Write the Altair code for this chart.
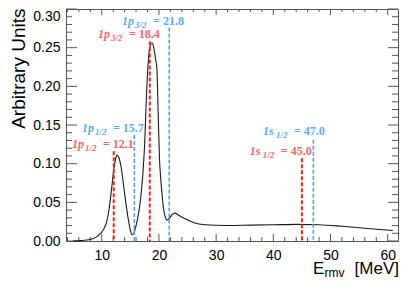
import altair as alt
import pandas as pd

# ---- measured spectrum ----
energy = [5.0, 6.3, 8.0, 9.0, 9.8, 10.4, 10.9, 11.3, 11.7, 12.1, 12.4, 12.7, 13.0, 13.4,
          13.8, 14.2, 14.6, 15.0, 15.3, 15.6, 16.0, 16.4, 16.8, 17.2, 17.5, 17.8, 18.1,
          18.4, 18.76, 19.1, 19.4, 19.65, 19.8, 19.95, 20.1, 20.3, 20.5, 20.8, 21.1, 21.4,
          21.8, 22.3, 22.8, 23.5, 24.5, 26.0, 28.0, 32.0, 36.0, 40.0, 44.0, 48.0, 52.0,
          56.0, 60.9]
strength = [0.0, 0.0005, 0.002, 0.005, 0.010, 0.016, 0.026, 0.042, 0.066, 0.092, 0.106,
            0.111, 0.108, 0.095, 0.073, 0.050, 0.030, 0.014, 0.008, 0.010, 0.020, 0.034,
            0.055, 0.088, 0.125, 0.185, 0.228, 0.250, 0.256, 0.250, 0.236, 0.222, 0.185,
            0.142, 0.106, 0.082, 0.064, 0.042, 0.031, 0.027, 0.029, 0.034, 0.036, 0.033,
            0.029, 0.024, 0.021, 0.020, 0.0205, 0.021, 0.0215, 0.021, 0.019, 0.0165, 0.0135]

# ---- theory levels ----
orbit = ["1p", "1p", "1s"]
j_sub = ["1/2", "3/2", "1/2"]
red_energy = [12.1, 18.4, 45.0]
red_top = [0.116, 0.258, 0.107]
red_label_x = [4.8, 9.35, 35.9]
red_label_y = [0.1197, 0.263, 0.1107]
blue_energy = [15.7, 21.8, 47.0]
blue_top = [0.137, 0.276, 0.131]
blue_label_x = [6.55, 13.55, 38.2]
blue_label_y = [0.1407, 0.2794, 0.1365]

# ---- axis ticks ----
x_major = [10, 20, 30, 40, 50, 60]
x_minor = [4, 6, 8, 12, 14, 16, 18, 22, 24, 26, 28, 32, 34, 36, 38, 42, 44, 46, 48,
           52, 54, 56, 58]
y_major = [0.0, 0.05, 0.10, 0.15, 0.20, 0.25, 0.30]
y_minor = [0.01, 0.02, 0.03, 0.04, 0.06, 0.07, 0.08, 0.09, 0.11, 0.12, 0.13, 0.14,
           0.16, 0.17, 0.18, 0.19, 0.21, 0.22, 0.23, 0.24, 0.26, 0.27, 0.28, 0.29]

W, H = 332, 232
AX = "#555555"
SANS = "Liberation Sans"
SERIF = "Liberation Serif"

xscale = alt.Scale(domain=[3.75, 61.8], nice=False, zero=False)
yscale = alt.Scale(domain=[0, 0.30], nice=False, zero=False)
xaxis = alt.Axis(values=x_major, ticks=False, domain=False, grid=False, labelFont=SANS,
                 labelFontSize=14, labelColor="black", labelPadding=7, title=None)
yaxis = alt.Axis(values=y_major, format=".2f", ticks=False, domain=False, grid=False,
                 labelFont=SANS, labelFontSize=14, labelColor="black", labelPadding=6,
                 labelBaseline={"condition": {"test": "datum.value >= 0.299", "value": "top"},
                                "value": "middle"},
                 title="Arbitrary Units", titleFont=SANS, titleFontSize=19,
                 titleFontWeight="normal", titleColor="black", titleX=-42, titleY=-1,
                 titleAlign="right", titleBaseline="alphabetic", titleAngle=270)


def X(f):
    return alt.X(f, type="quantitative", scale=xscale, axis=xaxis)


def Y(f):
    return alt.Y(f, type="quantitative", scale=yscale, axis=yaxis)


spec = pd.DataFrame({"E": energy, "S": strength})
curve = alt.Chart(spec).mark_line(color="#1a1a1a", strokeWidth=1.1, interpolate="monotone").encode(
    x=X("E"), y=Y("S"))


def level_df(E, top, lx, ly):
    return pd.DataFrame({"E": E, "top": top, "zero": [0.0] * len(E), "lx": lx, "ly": ly,
                         "pre": orbit, "sub": j_sub, "val": [f"= {e:.1f}" for e in E]})


def level_layers(df, line_color, text_color, width):
    base = alt.Chart(df)
    rules = base.mark_rule(color=line_color, strokeWidth=width, strokeDash=[4, 2]).encode(
        x=X("E"), y=Y("top"), y2="zero")
    t1 = base.mark_text(align="left", baseline="alphabetic", font=SERIF, fontSize=12,
                        fontWeight="bold", fontStyle="italic", color=text_color).encode(
        x=X("lx"), y=Y("ly"), text="pre:N")
    t2 = base.mark_text(align="left", baseline="alphabetic", font=SERIF, fontSize=9,
                        fontWeight="bold", fontStyle="italic", color=text_color, dx=13, dy=3).encode(
        x=X("lx"), y=Y("ly"), text="sub:N")
    t3 = base.mark_text(align="left", baseline="alphabetic", font=SERIF, fontSize=12,
                        fontWeight="bold", color=text_color, dx=31).encode(
        x=X("lx"), y=Y("ly"), text="val:N")
    return [rules, t1, t2, t3]


red = level_layers(level_df(red_energy, red_top, red_label_x, red_label_y),
                   "#ff1a1a", "#ff6464", 2)
blue = level_layers(level_df(blue_energy, blue_top, blue_label_x, blue_label_y),
                    "#4da6e8", "#5aaeec", 1.6)


def xtick(vals, y1, y2):
    return alt.Chart(pd.DataFrame({"v": vals})).mark_rule(color=AX, strokeWidth=1).encode(
        x=X("v"), y=alt.value(y1), y2=alt.value(y2))


def ytick(vals, x1, x2):
    return alt.Chart(pd.DataFrame({"v": vals})).mark_rule(color=AX, strokeWidth=1).encode(
        y=Y("v"), x=alt.value(x1), x2=alt.value(x2))


ticks = [
    xtick(x_major, H, H - 7), xtick(x_minor, H, H - 4),
    xtick(x_major, 0, 6), xtick(x_minor, 0, 3),
    ytick(y_major, 0, 11), ytick(y_minor, 0, 6),
    ytick(y_major, W, W - 10), ytick(y_minor, W, W - 6),
]

one = pd.DataFrame({"k": [0]})
xt_E = alt.Chart(one).mark_text(align="left", baseline="alphabetic", font=SANS, fontSize=17,
                                color="black").encode(
    x=alt.value(247), y=alt.value(H + 33), text=alt.value("E"))
xt_sub = alt.Chart(one).mark_text(align="left", baseline="alphabetic", font=SANS, fontSize=12,
                                  color="black").encode(
    x=alt.value(258.5), y=alt.value(H + 36), text=alt.value("rmv"))
xt_unit = alt.Chart(one).mark_text(align="right", baseline="alphabetic", font=SANS, fontSize=17,
                                   color="black").encode(
    x=alt.value(W + 1), y=alt.value(H + 33), text=alt.value("[MeV]"))

chart = alt.layer(*ticks, curve, *red, *blue, xt_E, xt_sub, xt_unit).properties(
    width=W, height=H,
    padding={"left": 58, "top": 1, "right": 1, "bottom": 38},
    autosize=alt.AutoSizeParams(type="none"),
    background="white",
).configure_view(stroke=AX, strokeWidth=1)

chart.save("out.html", embed_options={"renderer": "svg", "actions": False})
